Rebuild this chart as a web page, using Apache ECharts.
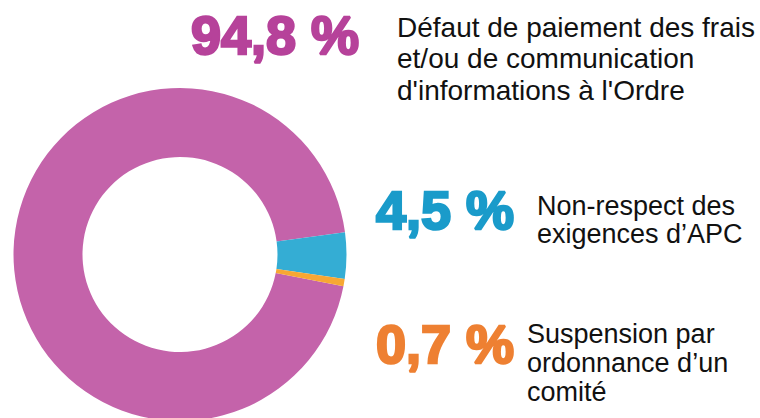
<!DOCTYPE html>
<html>
<head>
<meta charset="utf-8">
<script src="https://cdn.jsdelivr.net/npm/echarts@6/dist/echarts.min.js"></script>
<style>
html,body{margin:0;padding:0;background:#fff;}
#chart{width:760px;height:418px;}
</style>
</head>
<body>
<div id="chart"></div>
<script>
// Data
const categories = [
  "Défaut de paiement des frais\net/ou de communication\nd'informations à l'Ordre",
  "Non-respect des\nexigences d’APC",
  "Suspension par\nordonnance d’un\ncomité"
];
const values = [94.8, 4.5, 0.7];
const valueLabels = ["94,8 %", "4,5 %", "0,7 %"];

// Styling
const sliceColors = ["#C463AA", "#34ADD4", "#F7A733"];
const labelColors = ["#B6429A", "#1A9BCA", "#EE8032"];
const pctPos = [[191, 35], [376, 210], [376, 343.5]];
const descPos = [[397, 11.5, 28, 31.5], [537, 191.6, 27, 28], [527, 319, 27, 29]];

const chart = echarts.init(document.getElementById('chart'), null, {renderer: 'svg'});

const graphics = [];
for (let i = 0; i < values.length; i++) {
  graphics.push({
    type: 'text',
    x: pctPos[i][0], y: pctPos[i][1],
    silent: true,
    style: {
      text: valueLabels[i],
      fill: labelColors[i],
      stroke: labelColors[i],
      lineWidth: 2.5,
      fontFamily: 'Liberation Sans, Arial, sans-serif',
      fontWeight: 'bold',
      fontSize: 54,
      textAlign: 'left',
      textVerticalAlign: 'middle'
    }
  });
  graphics.push({
    type: 'text',
    x: descPos[i][0], y: descPos[i][1],
    silent: true,
    style: {
      text: categories[i],
      fill: '#111111',
      fontFamily: 'Liberation Sans, Arial, sans-serif',
      fontSize: descPos[i][2],
      lineHeight: descPos[i][3],
      textAlign: 'left',
      textVerticalAlign: 'top'
    }
  });
}

chart.setOption({
  animation: false,
  backgroundColor: '#ffffff',
  series: [{
    type: 'pie',
    center: [180, 254.5],
    radius: [97.5, 166.5],
    startAngle: 349,
    clockwise: true,
    silent: true,
    label: {show: false},
    labelLine: {show: false},
    emphasis: {disabled: true},
    itemStyle: {borderWidth: 0},
    data: values.map((v, i) => ({
      value: v,
      name: valueLabels[i],
      itemStyle: {color: sliceColors[i]}
    }))
  }],
  graphic: graphics
});
</script>
</body>
</html>
